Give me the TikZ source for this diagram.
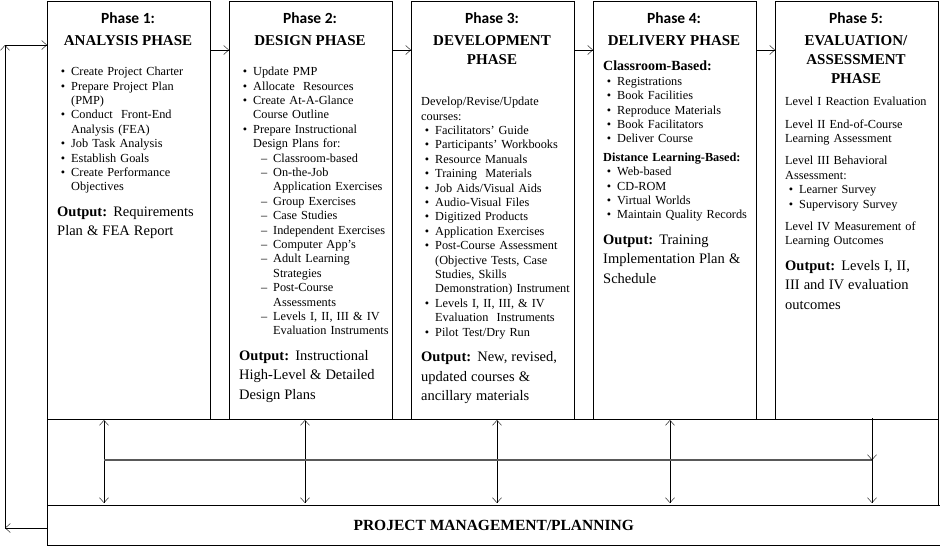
\documentclass[tikz,border=0pt]{standalone}
\usepackage{fontspec}
\setmainfont{Liberation Serif}
\newfontfamily\headfont{Carlito}
\usepackage{enumitem}
\usetikzlibrary{positioning}
\usetikzlibrary{arrows.meta}
\hyphenpenalty=10000
\exhyphenpenalty=10000
\setlist{nosep,leftmargin=14pt,labelsep=6pt}
\setlist[itemize,2]{label=--,leftmargin=20pt}
\newcommand{\outp}[1]{\par\vspace{6pt}{\fontsize{14.5}{19.5}\selectfont\textbf{Output:} #1\par}}
\tikzset{
	phasebox/.style={draw, minimum width=163pt, minimum height=418pt, anchor=north west},
	phasehead/.style={font=\headfont\bfseries\fontsize{15.5}{17}\selectfont},
	phasetitle/.style={font=\bfseries\fontsize{15}{19}\selectfont, align=center, anchor=north},
	body/.style={anchor=north west, text width=150pt, inner sep=0pt, align=left,
		font=\fontsize{12.3}{14.4}\selectfont},
	flow/.style={-{Straight Barb[length=5pt,width=9pt]}},
	both/.style={{Straight Barb[length=5pt,width=9pt]}-{Straight Barb[length=5pt,width=9pt]}}
}
\begin{document}
\begin{tikzpicture}[x=1pt,y=-1pt]
	\useasboundingbox (0,0) rectangle (940,547);
	% phase boxes
	\foreach \i/\x in {1/47,2/229,3/411,4/593,5/775}{
		\node[phasebox] (p\i) at (\x,1) {};
		\node[phasehead] (h\i) at (\x+81,18) {Phase \i:};
	}
	\node[phasetitle] (t1) at (128,32) {ANALYSIS PHASE};
	\node[phasetitle] (t2) at (310,32) {DESIGN PHASE};
	\node[phasetitle] (t3) at (492,32) {DEVELOPMENT\\PHASE};
	\node[phasetitle] (t4) at (674,32) {DELIVERY PHASE};
	\node[phasetitle] (t5) at (856,32) {EVALUATION/\\ASSESSMENT\\PHASE};
	% contents
	\node[body] (c1) at (57,61) {\begin{itemize}
		\item Create Project Charter
		\item Prepare Project Plan (PMP)
		\item Conduct\ \ Front-End Analysis (FEA)
		\item Job Task Analysis
		\item Establish Goals
		\item Create Performance Objectives
		\end{itemize}\outp{Requirements Plan \& FEA Report}};
	\node[body] (c2) at (239,61) {\begin{itemize}
		\item Update PMP
		\item Allocate\ \ Resources
		\item Create At-A-Glance Course Outline
		\item Prepare Instructional Design Plans for:
		\begin{itemize}
			\item Classroom-based
			\item On-the-Job Application Exercises
			\item Group Exercises
			\item Case Studies
			\item Independent Exercises
			\item Computer App's
			\item Adult Learning Strategies
			\item Post-Course Assessments
			\item Levels I, II, III \& IV Evaluation Instruments
		\end{itemize}
		\end{itemize}\outp{Instructional High-Level \& Detailed Design Plans}};
	\node[body] (c3) at (421,97) {Develop/Revise/Update courses:
		\begin{itemize}
		\item Facilitators' Guide
		\item Participants' Workbooks
		\item Resource Manuals
		\item Training\ \ Materials
		\item Job Aids/Visual Aids
		\item Audio-Visual Files
		\item Digitized Products
		\item Application Exercises
		\item Post-Course Assessment (Objective Tests, Case Studies, Skills Demonstration) Instrument
		\item Levels I, II, III, \& IV\\Evaluation\ \ Instruments
		\item Pilot Test/Dry Run
		\end{itemize}\outp{New, revised, updated courses \& ancillary materials}};
	\node[body] (c4) at (603,61) {{\fontsize{14}{17}\selectfont\textbf{Classroom-Based:}}
		\begin{itemize}
		\item Registrations
		\item Book Facilities
		\item Reproduce Materials
		\item Book Facilitators
		\item Deliver Course
		\end{itemize}
		\vspace{4pt}\textbf{Distance Learning-Based:}
		\begin{itemize}
		\item Web-based
		\item CD-ROM
		\item Virtual Worlds
		\item Maintain Quality Records
		\end{itemize}\outp{Training Implementation Plan \& Schedule}};
	\node[body] (c5) at (785,97) {Level I Reaction Evaluation\\[8pt]
		Level II End-of-Course Learning Assessment\\[8pt]
		Level III Behavioral Assessment:
		\begin{itemize}
		\item Learner Survey
		\item Supervisory Survey
		\end{itemize}
		\vspace{8pt}Level IV Measurement of Learning Outcomes
		\outp{Levels I, II, III and IV evaluation outcomes}};
	% project management frame
	\node[draw, anchor=north west, minimum width=893pt, minimum height=40pt, font=\bfseries\fontsize{15.5}{17}\selectfont] (pm) at (47,505) {PROJECT MANAGEMENT/PLANNING};
	\draw (p1.south west) -- (pm.north west);
	\draw (p5.south east) -- (pm.north east -| p5.south east);
	\draw (p1.south east) -- (p2.south west) (p2.south east) -- (p3.south west)
		(p3.south east) -- (p4.south west) (p4.south east) -- (p5.south west);
	% flow between phases
	\foreach \a/\b in {1/2,2/3,3/4,4/5}{
		\draw[flow] (p\a.east |- 0,50) -- (p\b.west |- 0,50);
	}
	% links to project management
	\foreach \x in {104,305,497,670}{
		\draw[both] (\x,420) -- (\x,503);
	}
	\coordinate (hl) at (104,460);
	\coordinate (hr) at (872,460);
	\draw[gray!70!black, line width=1.2pt] (hl) -- (hr);
	\draw[flow] (872,418) -- (hr);
	\draw[flow] (hr) -- (872,503);
	% feedback loop
	\coordinate (fb) at (5,528);
	\coordinate (ft) at (5,45);
	\draw[flow] (pm.west |- fb) -- (fb);
	\draw[flow] (fb) -- (ft);
	\draw[flow] (ft) -- (p1.west |- ft);
\end{tikzpicture}
\end{document}
